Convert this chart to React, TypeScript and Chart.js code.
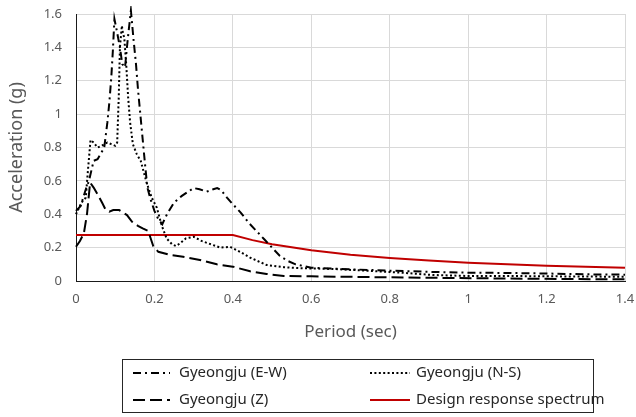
import { useEffect, useRef } from 'react';
import { Chart, registerables } from 'chart.js';

Chart.register(...registerables);

// Response spectra, Gyeongju record (E-W component)
const ewPeriod = [0, 0.012, 0.025, 0.033, 0.045, 0.055, 0.065, 0.072, 0.08, 0.085, 0.09, 0.094, 0.098, 0.104, 0.112, 0.118, 0.125, 0.132, 0.14, 0.147, 0.153, 0.158, 0.164, 0.17, 0.176, 0.182, 0.19, 0.2, 0.21, 0.22, 0.232, 0.25, 0.27, 0.286, 0.3, 0.315, 0.333, 0.35, 0.36, 0.37, 0.385, 0.4, 0.42, 0.44, 0.46, 0.48, 0.5, 0.52, 0.54, 0.56, 0.6, 0.7, 0.8, 0.9, 1.0, 1.1, 1.2, 1.3, 1.4];
const ewAccel = [0.42, 0.45, 0.55, 0.6, 0.72, 0.73, 0.77, 0.8, 0.95, 1.07, 1.22, 1.38, 1.57, 1.5, 1.4, 1.3, 1.28, 1.45, 1.62, 1.44, 1.3, 1.15, 1.0, 0.85, 0.7, 0.56, 0.49, 0.42, 0.37, 0.34, 0.4, 0.47, 0.51, 0.535, 0.557, 0.55, 0.535, 0.55, 0.557, 0.545, 0.5, 0.46, 0.41, 0.35, 0.3, 0.25, 0.2, 0.15, 0.12, 0.1, 0.08, 0.07, 0.062, 0.055, 0.05, 0.048, 0.045, 0.04, 0.038];

// N-S component
const nsPeriod = [0, 0.014, 0.025, 0.03, 0.037, 0.045, 0.055, 0.065, 0.08, 0.09, 0.1, 0.105, 0.109, 0.112, 0.117, 0.12, 0.123, 0.128, 0.133, 0.138, 0.145, 0.155, 0.165, 0.18, 0.193, 0.206, 0.219, 0.231, 0.245, 0.255, 0.265, 0.28, 0.3, 0.32, 0.35, 0.368, 0.393, 0.418, 0.444, 0.486, 0.53, 0.57, 0.656, 0.74, 0.83, 0.91, 1.0, 1.1, 1.2, 1.3, 1.4];
const nsAccel = [0.4, 0.47, 0.5, 0.65, 0.845, 0.83, 0.8, 0.81, 0.83, 0.82, 0.81, 0.83, 1.1, 1.4, 1.53, 1.48, 1.46, 1.3, 1.1, 0.95, 0.82, 0.76, 0.72, 0.59, 0.5, 0.44, 0.33, 0.255, 0.22, 0.21, 0.225, 0.255, 0.265, 0.24, 0.215, 0.2, 0.205, 0.175, 0.14, 0.096, 0.083, 0.077, 0.072, 0.062, 0.05, 0.036, 0.03, 0.03, 0.028, 0.027, 0.025];

// Vertical (Z) component
const zPeriod = [0, 0.01, 0.02, 0.028, 0.036, 0.045, 0.055, 0.067, 0.075, 0.085, 0.095, 0.11, 0.12, 0.13, 0.143, 0.158, 0.17, 0.184, 0.197, 0.21, 0.24, 0.273, 0.316, 0.359, 0.4, 0.444, 0.486, 0.53, 0.6, 0.8, 0.95, 1.1, 1.25, 1.4];
const zAccel = [0.205, 0.24, 0.285, 0.4, 0.59, 0.56, 0.52, 0.467, 0.43, 0.415, 0.425, 0.425, 0.41, 0.395, 0.355, 0.33, 0.315, 0.3, 0.21, 0.175, 0.156, 0.145, 0.126, 0.1, 0.086, 0.058, 0.042, 0.03, 0.028, 0.022, 0.018, 0.015, 0.012, 0.01];

// Design response spectrum
const designPeriod = [0, 0.4, 0.45, 0.5, 0.6, 0.7, 0.8, 0.9, 1.0, 1.1, 1.2, 1.3, 1.4];
const designAccel = [0.276, 0.276, 0.245, 0.22, 0.184, 0.158, 0.138, 0.123, 0.11, 0.1, 0.092, 0.085, 0.079];

const xTickValues = [0, 0.2, 0.4, 0.6, 0.8, 1, 1.2, 1.4];
const xTickLabels = ['0', '0.2', '0.4', '0.6', '0.8', '1', '1.2', '1.4'];
const yTickValues = [0, 0.2, 0.4, 0.6, 0.8, 1, 1.2, 1.4, 1.6];
const yTickLabels = ['0', '0.2', '0.4', '0.6', '0.8', '1', '1.2', '1.4', '1.6'];

const FONT = '"Noto Sans", "DejaVu Sans", sans-serif';
const TICK_COLOR = '#595959';
const GRID_COLOR = '#d9d9d9';

const toPoints = (xs: number[], ys: number[]) => xs.map((x, i) => ({ x, y: ys[i] }));

// Boxed two-column legend under the plot
const boxLegend = {
  id: 'boxLegend',
  afterDraw(chart: any) {
    const ctx = chart.ctx as CanvasRenderingContext2D;
    ctx.save();
    ctx.setLineDash([]);
    ctx.strokeStyle = '#262626';
    ctx.lineWidth = 1;
    ctx.strokeRect(122.5, 359.5, 471, 53);
    const cols = [
      { start: 133, end: 170, text: 179 },
      { start: 370, end: 410, text: 416 },
    ];
    const rows = [373, 400];
    chart.data.datasets.forEach((ds: any, i: number) => {
      const col = cols[i % 2];
      const y = rows[Math.floor(i / 2)];
      ctx.strokeStyle = ds.borderColor;
      ctx.lineWidth = ds.borderWidth;
      ctx.setLineDash(ds.borderDash || []);
      ctx.beginPath();
      ctx.moveTo(col.start, y);
      ctx.lineTo(col.end, y);
      ctx.stroke();
      ctx.setLineDash([]);
      ctx.fillStyle = '#262626';
      ctx.font = `15px ${FONT}`;
      ctx.textBaseline = 'middle';
      ctx.textAlign = 'left';
      ctx.fillText(ds.label, col.text, y);
    });
    ctx.restore();
  },
};

export default function App() {
  const canvasRef = useRef<HTMLCanvasElement | null>(null);

  useEffect(() => {
    const canvas = canvasRef.current;
    if (!canvas) return;
    const chart = new Chart(canvas, {
      type: 'line',
      data: {
        datasets: [
          {
            label: 'Gyeongju (E-W)',
            data: toPoints(ewPeriod, ewAccel),
            borderColor: '#000000',
            borderWidth: 2,
            borderDash: [8, 4, 2, 4],
          },
          {
            label: 'Gyeongju (N-S)',
            data: toPoints(nsPeriod, nsAccel),
            borderColor: '#000000',
            borderWidth: 2,
            borderDash: [2, 2.4],
          },
          {
            label: 'Gyeongju (Z)',
            data: toPoints(zPeriod, zAccel),
            borderColor: '#000000',
            borderWidth: 2,
            borderDash: [12, 5],
          },
          {
            label: 'Design response spectrum',
            data: toPoints(designPeriod, designAccel),
            borderColor: '#c00000',
            borderWidth: 2,
          },
        ],
      },
      options: {
        responsive: false,
        animation: false,
        events: [],
        layout: { padding: { top: 14, right: 11, left: 0, bottom: 0 } },
        elements: {
          point: { radius: 0 },
          line: { tension: 0, fill: false },
        },
        datasets: { line: { clip: 8 } as any },
        plugins: {
          legend: { display: false },
          tooltip: { enabled: false },
        },
        scales: {
          x: {
            type: 'linear',
            min: 0,
            max: 1.4,
            afterBuildTicks: (s: any) => {
              s.ticks = xTickValues.map((v) => ({ value: v }));
            },
            afterFit: (s: any) => {
              s.height = 136;
              s.paddingLeft = 0;
              s.paddingRight = 0;
            },
            grid: { color: GRID_COLOR, drawTicks: false },
            border: { color: '#1a1a1a', width: 1 },
            ticks: {
              padding: 10,
              color: TICK_COLOR,
              font: { family: FONT, size: 13 },
              maxRotation: 0,
              autoSkip: false,
              callback: (_v: any, i: number) => xTickLabels[i],
            },
            title: {
              display: true,
              text: 'Period (sec)',
              color: TICK_COLOR,
              font: { family: FONT, size: 17 },
              padding: { top: 0, bottom: 75 },
            },
          },
          y: {
            type: 'linear',
            min: 0,
            max: 1.6,
            afterBuildTicks: (s: any) => {
              s.ticks = yTickValues.map((v) => ({ value: v }));
            },
            afterFit: (s: any) => {
              s.width = 76;
              s.paddingTop = 0;
              s.paddingBottom = 0;
            },
            grid: { color: GRID_COLOR, drawTicks: false },
            border: { color: '#1a1a1a', width: 1 },
            ticks: {
              padding: 14,
              color: TICK_COLOR,
              font: { family: FONT, size: 13 },
              autoSkip: false,
              callback: (_v: any, i: number) => yTickLabels[i],
            },
            title: {
              display: true,
              text: 'Acceleration (g)',
              color: TICK_COLOR,
              font: { family: FONT, size: 18 },
              padding: { top: 6, bottom: 0 },
            },
          },
        },
      },
      plugins: [boxLegend],
    });
    return () => chart.destroy();
  }, []);

  return (
    <div style={{ position: 'fixed', left: 0, top: 0, width: 636, height: 417, background: '#ffffff' }}>
      <canvas ref={canvasRef} width={636} height={417} style={{ display: 'block' }} />
    </div>
  );
}
